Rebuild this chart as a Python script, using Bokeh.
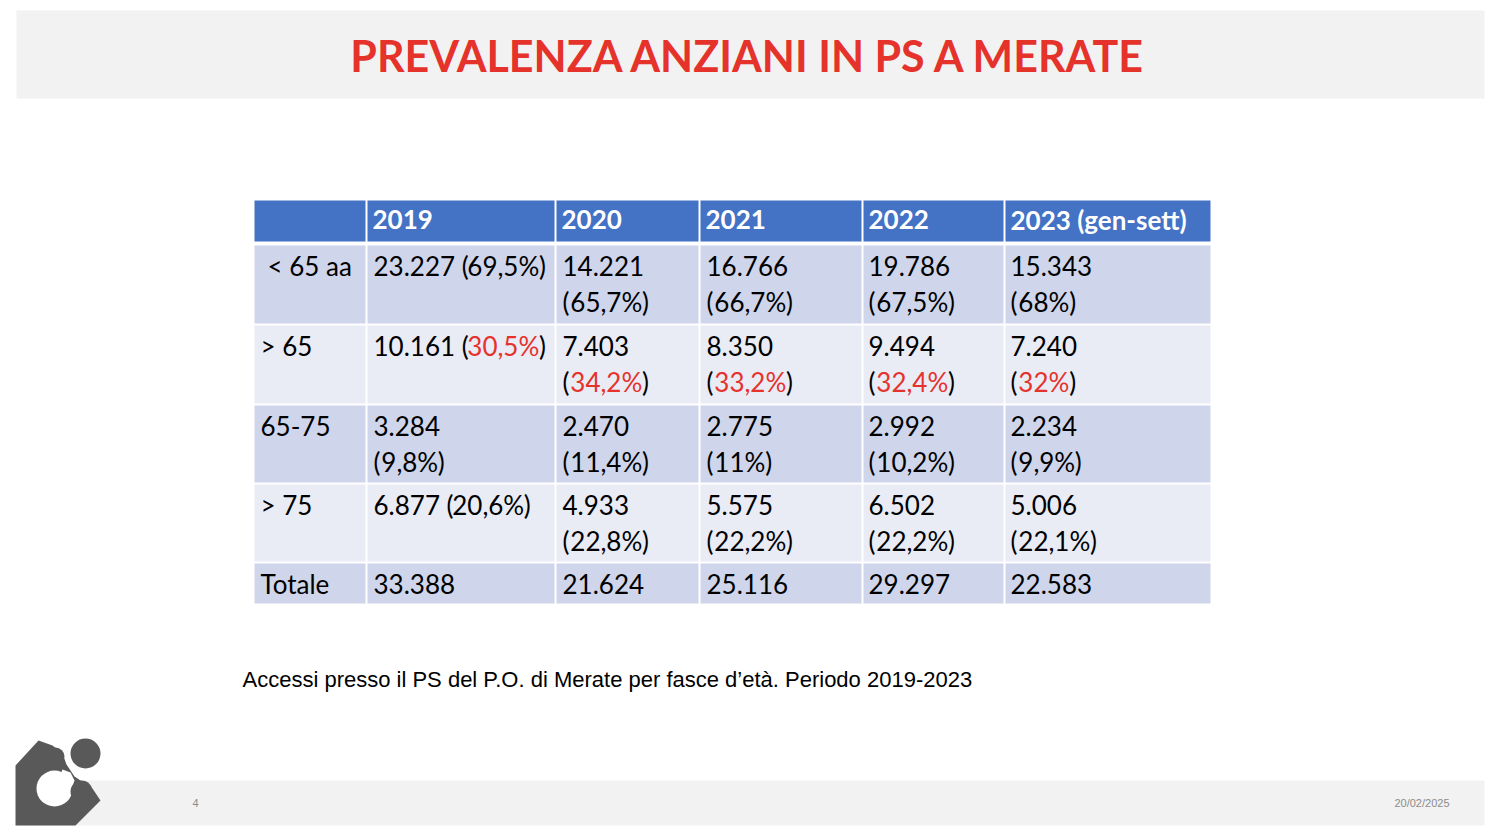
from bokeh.plotting import figure
from bokeh.models import Range1d, ColumnDataSource
from bokeh.core.properties import value
from bokeh.embed import file_html
from bokeh.resources import INLINE

# ---------------- data ----------------
title = "PREVALENZA ANZIANI IN PS A MERATE"
caption = "Accessi presso il PS del P.O. di Merate per fasce d\u2019et\u00e0. Periodo 2019-2023"
page_number = "4"
date_text = "20/02/2025"

years = ["2019", "2020", "2021", "2022", "2023 (gen-sett)"]
groups = ["< 65 aa", "> 65", "65-75", "> 75", "Totale"]

under65 = ["23.227", "14.221", "16.766", "19.786", "15.343"]
under65_pct = ["69,5%", "65,7%", "66,7%", "67,5%", "68%"]
over65 = ["10.161", "7.403", "8.350", "9.494", "7.240"]
over65_pct = ["30,5%", "34,2%", "33,2%", "32,4%", "32%"]
age65_75 = ["3.284", "2.470", "2.775", "2.992", "2.234"]
age65_75_pct = ["9,8%", "11,4%", "11%", "10,2%", "9,9%"]
over75 = ["6.877", "4.933", "5.575", "6.502", "5.006"]
over75_pct = ["20,6%", "22,8%", "22,2%", "22,2%", "22,1%"]
totale = ["33.388", "21.624", "25.116", "29.297", "22.583"]

counts = [under65, over65, age65_75, over75, totale]
pcts = [under65_pct, over65_pct, age65_75_pct, over75_pct, None]

# ---------------- layout / style ----------------
W, H = 1500, 837
RED = "#e5322b"
BLUE = "#4472c4"
ROW_FILLS = ["#cfd5ea", "#e9ebf5"]
GREY = "#f2f2f2"
FONT = "Lato"
FS = 26

col_edges = [254, 366, 555, 699, 862, 1004, 1211]
header_top, header_bot = 200, 241
row_edges = [(245, 323), (325, 403), (405, 482), (484, 561), (563, 603)]

# approximate advance widths (em) for Lato regular, used to chain coloured text pieces
CW = {".": 0.215, ",": 0.215, " ": 0.193, "(": 0.30, ")": 0.30, "%": 0.80}


def tw(s):
    return sum(CW.get(ch, 0.58) for ch in s) * FS


p = figure(width=W, height=H, x_range=Range1d(0, W), y_range=Range1d(H, 0),
           output_backend="svg", toolbar_location=None, min_border=0,
           x_axis_location=None, y_axis_location=None)
p.grid.visible = False
p.outline_line_color = None
p.background_fill_color = "white"
p.border_fill_color = "white"

# title band and footer band
p.quad(left=[16], right=[1484], top=[10], bottom=[98], fill_color=GREY, line_color=None)
p.quad(left=[16], right=[1484], top=[780], bottom=[825], fill_color=GREY, line_color=None)

p.text(x=[749], y=[55], text=[title], text_font=value("Lato"),
       text_font_style="bold", text_font_size="43px", text_color=RED,
       text_align="center", text_baseline="alphabetic")

# table cells
ql, qr, qt, qb, qc = [], [], [], [], []
ncol = len(col_edges) - 1
for c in range(ncol):
    ql.append(col_edges[c] + (1 if c > 0 else 0))
    qr.append(col_edges[c + 1] - 1)
    qt.append(header_top)
    qb.append(header_bot)
    qc.append(BLUE)
for r, (t, b) in enumerate(row_edges):
    for c in range(ncol):
        ql.append(col_edges[c] + (1 if c > 0 else 0))
        qr.append(col_edges[c + 1] - 1)
        qt.append(t)
        qb.append(b)
        qc.append(ROW_FILLS[r % 2])
p.quad(source=ColumnDataSource(dict(left=ql, right=qr, top=qt, bottom=qb, color=qc)),
       left="left", right="right", top="top", bottom="bottom",
       fill_color="color", line_color=None)

# header texts
hx = [col_edges[c + 1] + 6 for c in range(len(years))]
p.text(x=hx, y=[219] * len(years), text=years, text_font=value(FONT), text_font_style="bold",
       text_font_size=f"{FS}px", text_color="white", text_baseline="alphabetic")

# body texts
sx, sy, st, sc = [], [], [], []
for r, (t, b) in enumerate(row_edges):
    b1 = t + 20
    b2 = b1 + 36
    lab_x = col_edges[0] + (13 if r == 0 else 6)
    sx.append(lab_x); sy.append(b1); st.append(groups[r]); sc.append("black")
    for c in range(len(years)):
        x0 = col_edges[c + 1] + 7 - (1 if c >= 3 else 0)
        cnt = counts[r][c]
        pct_list = pcts[r]
        if pct_list is None:
            sx.append(x0); sy.append(b1); st.append(cnt); sc.append("black")
            continue
        pct = pct_list[c]
        one_line = (c == 0 and r in (0, 1, 3))
        pct_color = RED if r == 1 else "black"
        if one_line:
            first = cnt + " ("
            px, py = x0 + tw(first), b1
            sx.append(x0); sy.append(b1); st.append(first); sc.append("black")
        else:
            sx.append(x0); sy.append(b1); st.append(cnt); sc.append("black")
            px, py = x0 + tw("("), b2
            sx.append(x0); sy.append(b2); st.append("("); sc.append("black")
        sx.append(px); sy.append(py); st.append(pct); sc.append(pct_color)
        sx.append(px + tw(pct)); sy.append(py); st.append(")"); sc.append("black")

p.text(source=ColumnDataSource(dict(x=sx, y=sy, text=st, color=sc)), x="x", y="y",
       text="text", text_color="color", text_font=value(FONT), text_font_size=f"{FS}px",
       text_baseline="alphabetic")

# caption
p.text(x=[242], y=[679], text=[caption], text_font=value("Liberation Sans"),
       text_font_size="22px", text_color="black", text_baseline="alphabetic")

# footer texts
p.text(x=[195], y=[802], text=[page_number], text_font=value("Liberation Sans"),
       text_font_size="11px", text_color="#8c8c8c", text_align="center",
       text_baseline="alphabetic")
p.text(x=[1449], y=[802], text=[date_text], text_font=value("Liberation Sans"),
       text_font_size="11px", text_color="#8c8c8c", text_align="right",
       text_baseline="alphabetic")

# logo (decorative)
LOGO = "#595959"
p.patch(x=[15, 38, 52, 62, 66, 74, 92, 100, 75, 15],
        y=[765, 740, 745, 753, 764, 776, 788, 800, 825, 825],
        fill_color=LOGO, line_color=None)
p.circle(x=[54], y=[788], radius=18, fill_color="white", line_color=None)
p.patch(x=[54, 62, 70, 74, 70], y=[788, 769, 772, 780, 792], fill_color="white", line_color=None)
p.circle(x=[55, 81], y=[756, 791], radius=[9, 11], fill_color=LOGO, line_color=None)
p.circle(x=[85], y=[753], radius=15, fill_color=LOGO, line_color=None)

open("out.html", "w").write(file_html(p, INLINE))
